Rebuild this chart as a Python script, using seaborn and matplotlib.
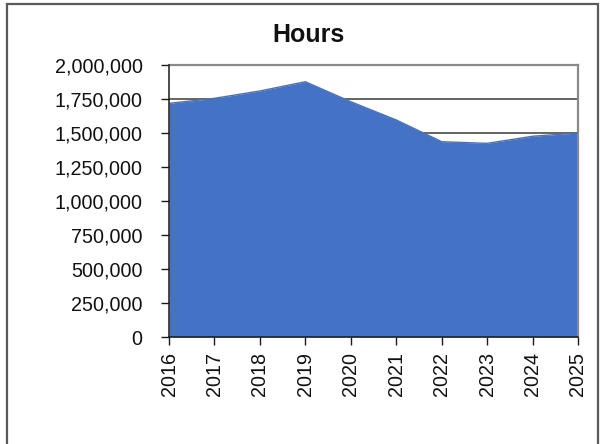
import matplotlib
matplotlib.use("Agg")
import matplotlib.pyplot as plt
from matplotlib.patches import Rectangle
from matplotlib.ticker import FuncFormatter, MultipleLocator
import seaborn as sns
import pandas as pd

years = ["2016", "2017", "2018", "2019", "2020", "2021", "2022", "2023", "2024", "2025"]
hours = [1718000, 1755000, 1809000, 1877000, 1730000, 1596000, 1436000, 1424000, 1476000, 1500000]

sns.set_theme(style="white")
plt.rcParams["font.family"] = ["Liberation Sans", "DejaVu Sans"]

df = pd.DataFrame({"pos": range(len(years)), "year": years, "hours": hours})
fill = "#4472C4"

fig = plt.figure(figsize=(6.03, 4.44), dpi=100)
ax = fig.add_axes([169 / 603, 1 - 337 / 444, (578 - 169) / 603, (337 - 65) / 444])

ax.set_axisbelow(True)
ax.fill_between(df["pos"], df["hours"], 0, color=fill, linewidth=0, zorder=2)
sns.lineplot(data=df, x="pos", y="hours", color=fill, linewidth=1, ax=ax, zorder=3)

ax.set_xlim(0, len(years) - 1)
ax.set_ylim(0, 2000000)
ax.yaxis.set_major_locator(MultipleLocator(250000))
ax.yaxis.set_major_formatter(FuncFormatter(lambda v, _: f"{int(v):,}"))
ax.set_xticks(df["pos"])
ax.set_xticklabels(df["year"], rotation=90)
ax.set_xlabel("")
ax.set_ylabel("")

ax.grid(axis="y", color="#3a3a3a", linewidth=1.1, zorder=1)
ax.grid(axis="x", visible=False)

for side in ("top", "right"):
    ax.spines[side].set_color("#8a8a8a")
    ax.spines[side].set_linewidth(1.6)
for side in ("left", "bottom"):
    ax.spines[side].set_color("#1a1a1a")
    ax.spines[side].set_linewidth(1.1)
    ax.spines[side].set_zorder(4)

ax.tick_params(axis="y", which="major", direction="out", length=6, width=1,
               color="#1a1a1a", labelsize=14.2, pad=13, left=True)
ax.tick_params(axis="x", which="major", direction="out", length=6, width=1,
               color="#1a1a1a", labelsize=14.2, pad=5, bottom=True)
for lbl in ax.get_xticklabels() + ax.get_yticklabels():
    lbl.set_color("#111111")

fig.text(308.5 / 603, 1 - 42 / 444, "Hours", ha="center", va="baseline",
         fontsize=18, fontweight="bold", color="#111111")

fig.patches.append(Rectangle((7 / 603, -0.05), (598 - 7) / 603, 1 - 4 / 444 + 0.05,
                             transform=fig.transFigure, fill=False,
                             edgecolor="#5a5a5a", linewidth=1.6))

fig.savefig("out.png", dpi=100)
